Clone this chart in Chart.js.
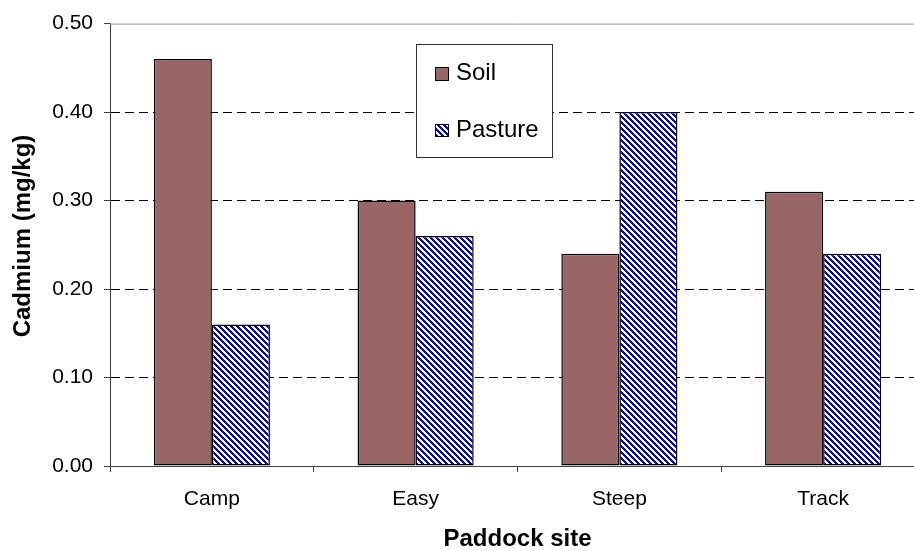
<!DOCTYPE html>
<html>
<head>
<meta charset="utf-8">
<script src="https://cdn.jsdelivr.net/npm/chart.js@4/dist/chart.umd.min.js"></script>
<style>
  html, body { margin: 0; padding: 0; overflow: hidden; background: #fff; }
  #wrap { width: 940px; height: 551px; }
</style>
</head>
<body>
<div id="wrap"><canvas id="c" width="940" height="551"></canvas></div>
<script>
const categories = ['Camp', 'Easy', 'Steep', 'Track'];
const soilValues = [0.46, 0.30, 0.24, 0.31];
const pastureValues = [0.16, 0.26, 0.40, 0.24];
const yTicks = [0, 0.1, 0.2, 0.3, 0.4, 0.5];
const seriesNames = ['Soil', 'Pasture'];
const xTitle = 'Paddock site';
const yTitle = 'Cadmium (mg/kg)';

const FONT = '"Liberation Sans", Arial, sans-serif';

function makeStripePattern() {
  const t = document.createElement('canvas');
  t.width = 6; t.height = 6;
  const g = t.getContext('2d');
  g.fillStyle = '#ffffff';
  g.fillRect(0, 0, 6, 6);
  g.fillStyle = '#0000ff';
  for (let y = 0; y < 6; y++) {
    for (let x = 0; x < 6; x++) {
      if ((((x - y) % 6) + 6) % 6 < 3) g.fillRect(x, y, 1, 1);
    }
  }
  return document.getElementById('c').getContext('2d').createPattern(t, 'repeat');
}
const stripe = makeStripePattern();
const soilColor = '#996666';

const frameAndLegend = {
  id: 'frameAndLegend',
  beforeDatasetsDraw(chart) {
    const {ctx, chartArea: a} = chart;
    ctx.save();
    ctx.strokeStyle = '#999999';
    ctx.lineWidth = 1;
    ctx.beginPath();
    ctx.moveTo(a.left, a.top + 0.5);
    ctx.lineTo(a.right, a.top + 0.5);
    ctx.moveTo(a.right - 0.5, a.top);
    ctx.lineTo(a.right - 0.5, a.bottom);
    ctx.stroke();
    ctx.restore();
  },
  afterDraw(chart) {
    const ctx = chart.ctx;
    ctx.save();
    // y axis title
    ctx.translate(23, 236);
    ctx.rotate(-Math.PI / 2);
    ctx.font = 'bold 24px ' + FONT;
    ctx.fillStyle = '#000';
    ctx.textAlign = 'center';
    ctx.textBaseline = 'middle';
    ctx.fillText(yTitle, 0, 0);
    ctx.restore();

    ctx.save();
    // legend box
    ctx.fillStyle = '#ffffff';
    ctx.fillRect(416, 44, 137, 114);
    ctx.strokeStyle = '#333333';
    ctx.lineWidth = 1;
    ctx.strokeRect(416.5, 44.5, 136, 113);
    const items = chart.data.datasets;
    const rows = [{sy: 67, sh: 14, ty: 73}, {sy: 124, sh: 13, ty: 130}];
    ctx.font = '24px ' + FONT;
    ctx.textBaseline = 'middle';
    ctx.textAlign = 'left';
    items.forEach((ds, i) => {
      const r = rows[i];
      ctx.fillStyle = ds.backgroundColor;
      ctx.fillRect(435, r.sy, 14, r.sh);
      ctx.strokeStyle = '#000';
      ctx.strokeRect(435.5, r.sy + 0.5, 13, r.sh - 1);
      ctx.fillStyle = '#000';
      ctx.fillText(ds.label, 456, r.ty);
    });
    ctx.restore();
  }
};

new Chart(document.getElementById('c'), {
  type: 'bar',
  data: {
    labels: categories,
    datasets: [
      { label: seriesNames[0], data: soilValues, backgroundColor: soilColor, borderColor: '#000', borderWidth: 1.5, borderSkipped: false },
      { label: seriesNames[1], data: pastureValues, backgroundColor: stripe, borderColor: '#000', borderWidth: 1.5, borderSkipped: false }
    ]
  },
  options: {
    responsive: false,
    animation: false,
    devicePixelRatio: 1,
    layout: { padding: { top: 21, right: 15, left: 0, bottom: 0 } },
    datasets: { bar: { categoryPercentage: 0.57, barPercentage: 1.0 } },
    plugins: { legend: { display: false }, tooltip: { enabled: false } },
    scales: {
      x: {
        offset: true,
        grid: { display: true, drawOnChartArea: false, offset: true, tickLength: 6, tickColor: '#404040', color: '#404040' },
        border: { display: true, color: '#404040', width: 1 },
        ticks: { color: '#000', font: { family: FONT, size: 21 }, padding: 15, maxRotation: 0 },
        title: { display: true, text: xTitle, color: '#000', font: { family: FONT, size: 24, weight: 'bold', lineHeight: 1 }, padding: { top: 0, bottom: 0 } },
        afterFit(s) { s.height = 85; }
      },
      y: {
        min: 0, max: 0.5,
        afterBuildTicks(s) { s.ticks = yTicks.map(v => ({ value: v })); },
        grid: {
          color: (c) => (c.tick && (c.tick.value === 0 || Math.abs(c.tick.value - 0.5) < 1e-9)) ? 'rgba(0,0,0,0)' : '#000000',
          tickColor: '#404040', tickLength: 6, tickBorderDash: [], lineWidth: 1
        },
        border: { display: true, color: '#404040', width: 1, dash: [9, 5] },
        ticks: { color: '#000', font: { family: FONT, size: 21 }, padding: 11, callback: (v) => Number(v).toFixed(2) },
        title: { display: false },
        afterFit(s) { s.width = 110; }
      }
    }
  },
  plugins: [frameAndLegend]
});
</script>
</body>
</html>
